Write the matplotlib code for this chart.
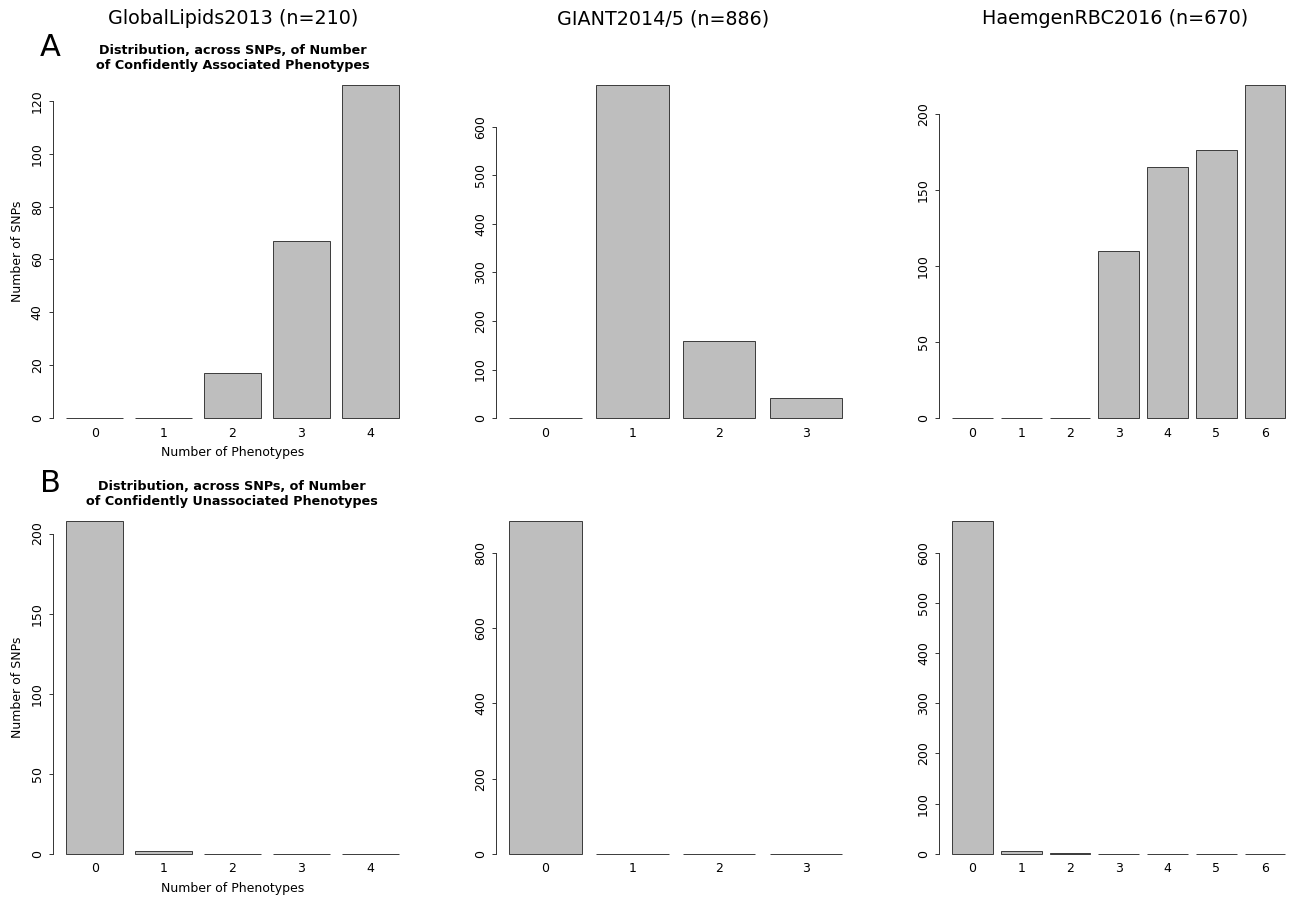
import numpy as np
import matplotlib
matplotlib.use("Agg")
import matplotlib.pyplot as plt

plt.rcParams['font.family'] = ['DejaVu Sans']

W, H = 1292, 897

# data
studies = ["GlobalLipids2013 (n=210)", "GIANT2014/5 (n=886)", "HaemgenRBC2016 (n=670)"]

lipids_assoc = [0, 0, 17, 67, 126]
giant_assoc = [0, 686, 158, 42]
haemgen_assoc = [0, 0, 0, 110, 165, 176, 219]

lipids_unassoc = [208, 2, 0, 0, 0]
giant_unassoc = [886, 0, 0, 0]
haemgen_unassoc = [664, 5, 1, 0, 0, 0, 0]

yticks_assoc = [np.arange(0, 121, 20), np.arange(0, 601, 100), np.arange(0, 201, 50)]
yticks_unassoc = [np.arange(0, 201, 50), np.arange(0, 801, 200), np.arange(0, 601, 100)]

rows = [[lipids_assoc, giant_assoc, haemgen_assoc],
        [lipids_unassoc, giant_unassoc, haemgen_unassoc]]
row_ticks = [yticks_assoc, yticks_unassoc]

#layout in pixels (plot regions)
col_left = [52.7, 496.0, 939.0]
col_w = 359.6
row_top = [71.7, 507.4]
row_h = 359.7

title_x = [233, 663, 1115]

fig = plt.figure(figsize=(W / 100, H / 100), dpi=100)

for r in range(2):
    for c in range(3):
        vals = rows[r][c]
        n = len(vals)
        ax = fig.add_axes([col_left[c] / W, 1 - (row_top[r] + row_h) / H, col_w / W, row_h / H])

        # R barplot style: width 1, space 0.2
        x = 0.7 + 1.2 * np.arange(n)
        ax.bar(x, vals, width=1.0, color="#bebebe", edgecolor="#3a3a3a", linewidth=0.7)

        span = 1.2 * n - 0.2
        ax.set_xlim(0.2 - 0.04 * span, 1.2 * n + 0.04 * span)
        top = max(vals)
        ax.set_ylim(-0.04 * top, 1.04 * top)

        ticks = row_ticks[r][c]
        ax.set_yticks(ticks)
        ax.set_yticklabels([str(t) for t in ticks], rotation=90, va="center", fontsize=9)
        ax.spines['left'].set_bounds(ticks[0], ticks[-1])
        ax.spines['left'].set_color("#333333")
        ax.spines['left'].set_linewidth(0.7)
        for s in ['top', 'right', 'bottom']:
            ax.spines[s].set_visible(False)
        ax.tick_params(axis='y', length=3, width=0.7, color="#333333", pad=3.5)

        ax.set_xticks(x)
        ax.set_xticklabels([str(i) for i in range(n)], fontsize=9)
        ax.tick_params(axis='x', length=0, pad=-3.5)

        if c == 0:
            ax.set_ylabel("Number of SNPs", fontsize=9, labelpad=5)
            ax.set_xlabel("Number of Phenotypes", fontsize=9, labelpad=5)

# column titles
for c in range(3):
    fig.text(title_x[c] / W, 1 - 19 / H, studies[c], ha="center", va="center", fontsize=13.8)

fig.text(50 / W, 1 - 47 / H, "A", ha="center", va="center", fontsize=22)
fig.text(50 / W, 1 - 483 / H, "B", ha="center", va="center", fontsize=22)

fig.text(233 / W, 1 - 58 / H, "Distribution, across SNPs, of Number\nof Confidently Associated Phenotypes",
         ha="center", va="center", fontsize=9.2, fontweight="bold", linespacing=1.15)
fig.text(232 / W, 1 - 494 / H, "Distribution, across SNPs, of Number\nof Confidently Unassociated Phenotypes",
         ha="center", va="center", fontsize=9.2, fontweight="bold", linespacing=1.15)

fig.savefig("out.png", dpi=100)
